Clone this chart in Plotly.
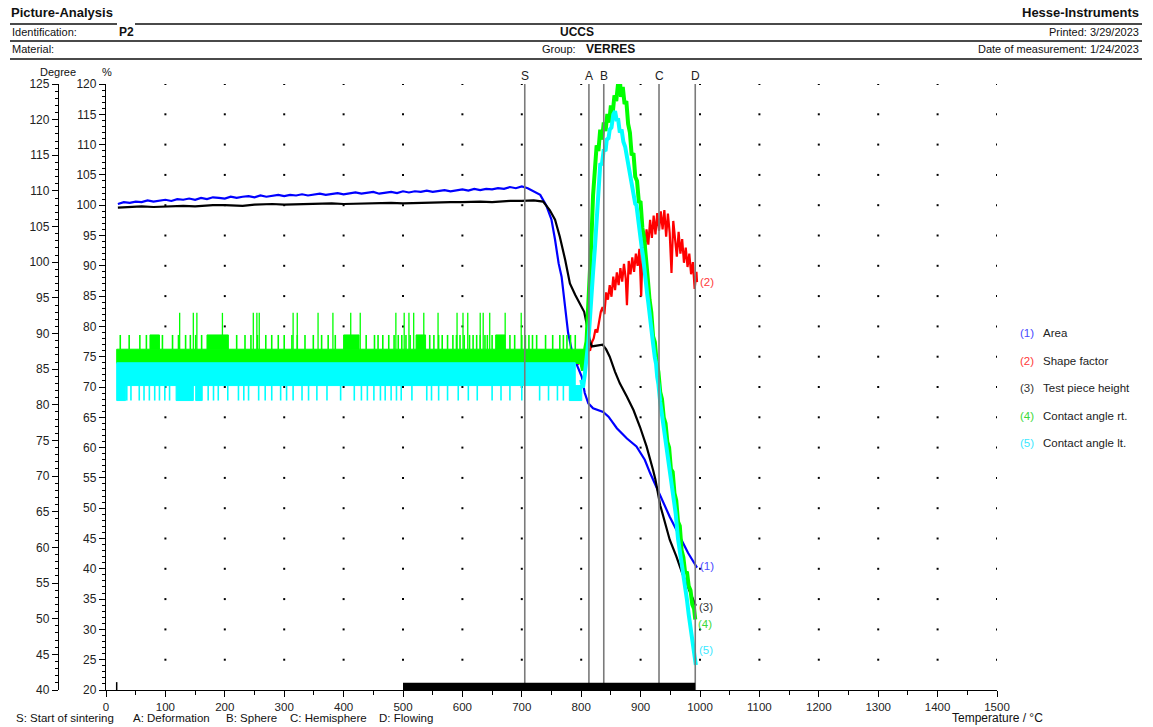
import plotly.graph_objects as go

# ---------------- data ----------------
# events (temperature, degC)
event_labels = ["S", "A", "B", "C", "D"]
event_temps = [705, 813, 838, 931, 992]
event_legend = ["S: Start of sintering", "A: Deformation", "B: Sphere", "C: Hemisphere", "D: Flowing"]
bar_start = 500
data_start = 18

# (1) Area, %
area_T = [20, 30, 40, 50, 60, 70, 80, 90, 100, 110, 120, 130, 140, 150, 160, 170, 180, 190, 200, 210, 220,
          230, 240, 250, 260, 270, 280, 290, 300, 310, 320, 330, 340, 350, 360, 370, 380, 390, 400, 410, 420,
          430, 440, 450, 460, 470, 480, 490, 500, 510, 520, 530, 540, 550, 560, 570, 580, 590, 600, 610, 620,
          630, 640, 650, 660, 670, 680, 690, 700, 710, 720, 731, 741, 750, 756, 762, 767, 770, 774, 778,
          784, 792, 801, 806, 812, 820, 837, 846, 860, 877, 893, 907, 916, 921, 933, 949, 960, 969, 980,
          990, 995]
area_v = [100.2, 100.5, 100.4, 100.6, 100.5, 100.8, 100.6, 100.7, 100.9, 100.7, 101.0, 100.9, 101.1, 100.9,
          101.2, 101.0, 101.3, 101.2, 101.1, 101.4, 101.2, 101.4, 101.5, 101.3, 101.6, 101.4, 101.5, 101.7,
          101.5, 101.7, 101.6, 101.8, 101.6, 101.7, 101.9, 101.7, 101.8, 102.0, 101.8, 101.9, 102.1, 101.9,
          102.0, 102.2, 101.9, 102.1, 102.2, 102.0, 102.3, 102.1, 102.3, 102.2, 102.4, 102.2, 102.4, 102.5,
          102.3, 102.5, 102.6, 102.4, 102.7, 102.5, 102.7, 102.6, 102.8, 102.7, 103.0, 102.8, 103.1, 102.8,
          102.3, 101.7, 100.0, 97.6, 94.3, 90.4, 88.2, 85.5, 82.2, 78.9, 76.1, 73.8, 71.7, 69.0, 67.3, 66.5,
          65.9, 65.1, 63.2, 61.5, 60.2, 58.0, 55.8, 54.7, 52.3, 48.6, 46.5, 44.8, 42.6, 41.0, 40.2]

# (2) Shape factor, %
shape_T = [792, 800, 803, 806, 809, 812, 815, 818, 821, 824, 827, 830, 833, 836, 839, 842, 845, 848, 851,
           854, 857, 860, 863, 866, 869, 872, 875, 877, 880, 883, 886, 889, 892, 895, 898, 901, 904, 907,
           910, 913, 916, 919, 922, 925, 928, 931, 934, 937, 940, 943, 946, 949, 952, 955, 958, 961, 964,
           967, 970, 973, 976, 979, 982, 985, 988, 991, 994, 995]
shape_v = [73.6, 74.2, 74.8, 75.5, 75.2, 76.3, 76.0, 77.4, 78.0, 79.5, 79.0, 81.0, 82.4, 83.2, 82.0, 85.6,
           84.4, 86.8, 84.9, 88.2, 86.0, 88.9, 86.8, 89.6, 87.4, 90.3, 87.9, 83.5, 90.8, 88.6, 91.4, 89.0,
           92.0, 90.0, 92.8, 85.0, 94.5, 91.8, 96.0, 93.5, 97.6, 94.6, 98.3, 95.2, 98.7, 95.8, 99.0, 96.0,
           99.2, 94.8, 98.6, 95.4, 88.8, 97.4, 94.0, 91.5, 95.6, 92.0, 94.4, 90.5, 93.0, 89.8, 92.0, 88.6,
           90.6, 86.2, 89.0, 87.3]
shape_early_T = [136, 154, 237, 259, 286, 343, 352, 358, 382, 405]
shape_early_v = [72.9, 72.9, 72.9, 72.9, 72.9, 72.9, 72.9, 72.9, 72.9, 72.9]

# (3) Test piece height, %
height_T = [20, 40, 60, 80, 100, 130, 150, 180, 200, 230, 250, 280, 300, 330, 350, 380, 400, 430, 450, 480,
            500, 530, 550, 580, 600, 630, 650, 680, 700, 720, 736, 747, 756,
            764, 773, 781, 790, 798, 805, 810, 815, 818, 826, 836, 842, 848, 857, 865, 877, 888, 899, 910,
            921, 925, 933, 940, 949, 960, 970, 980, 988, 993]
height_v = [99.6, 99.7, 99.8, 99.7, 99.8, 99.9, 99.8, 100.0, 100.0, 99.9, 100.1, 100.2, 100.1, 100.2, 100.2,
            100.3, 100.2, 100.3, 100.3, 100.4, 100.3, 100.4, 100.4, 100.5, 100.5, 100.6, 100.5, 100.7,
            100.7, 100.8, 100.6, 99.2, 97.6, 94.8, 91.0, 87.1, 85.2, 83.8, 82.4, 80.0, 77.5, 76.7, 76.8,
            77.0, 76.2, 75.0, 72.5, 70.6, 68.4, 66.2, 63.4, 60.2, 56.3, 54.7, 50.5, 48.0, 44.8, 42.1, 39.3,
            36.9, 34.9, 33.9]

# (4) Contact angle rt., degree
rt_band = [18, 803, 85.8, 87.8]          # T from, T to, low, high (dense band before sintering)
rt_mid_level = 89.8
rt_mid_blocks = [(74, 90), (170, 206), (400, 426), (522, 538), (656, 672)]
rt_mid_T = [24, 39, 57, 68, 95, 112, 122, 134, 142, 151, 161, 220, 234, 244, 255, 269, 279, 290, 300, 313,
            322, 335, 349, 363, 374, 386, 438, 452, 458, 466, 476, 485, 492, 498, 505, 512, 545, 552, 560,
            566, 575, 584, 590, 596, 603, 612, 618, 624, 630, 638, 642, 650, 680, 688, 700, 706, 712, 718,
            725, 740, 752, 764, 770, 776, 782, 790]
rt_spike_level = 92.9
rt_spike_T = [124, 147, 153, 196, 248, 254, 258, 315, 322, 357, 382, 412, 428, 488, 502, 510, 518, 535,
              559, 591, 601, 609, 630, 635, 646, 672, 699]
rt_T = [800, 803, 806, 809, 811, 813, 815, 817, 820, 823, 826, 829, 832, 835, 838, 841, 844, 847, 850, 853,
        856, 859, 862, 865, 867, 870, 873, 876, 879, 882, 885, 888, 891, 894, 897, 900, 903, 906, 909, 912,
        915, 918, 921, 924, 927, 930, 933, 936, 939, 942, 945, 948, 951, 954, 957, 960, 963, 966, 969, 972,
        975, 978, 981, 984, 987, 990, 992]
rt_v = [86.0, 84.8, 87.5, 88.9, 92.5, 95.2, 99.5, 102.8, 109.4, 112.7, 116.4, 115.6, 118.6, 117.2, 119.6,
        118.4, 120.8, 119.6, 122.0, 120.9, 123.4, 122.6, 125.0, 125.8, 123.2, 124.6, 122.2, 122.6, 119.4,
        118.2, 115.0, 115.3, 112.0, 111.4, 108.5, 108.4, 104.8, 103.4, 99.6, 97.8, 94.8, 93.0, 89.6, 88.8,
        86.0, 84.6, 81.8, 80.8, 78.2, 77.4, 74.8, 74.0, 71.0, 70.6, 67.6, 66.6, 63.6, 63.0, 59.6, 58.6, 56.4,
        56.6, 54.6, 54.0, 52.0, 51.4, 49.9]

# (5) Contact angle lt., degree
lt_band = [18, 790, 82.7, 85.9]
lt_low_blocks = [(18, 33), (118, 147), (151, 162), (780, 801)]
lt_spike_level = 80.6
lt_spike_T = [35, 42, 56, 64, 73, 82, 90, 99, 107, 172, 181, 189, 205, 223, 232, 240, 257, 268, 279, 294,
              304, 315, 330, 341, 355, 372, 395, 418, 430, 440, 451, 462, 470, 480, 489, 497, 515, 540, 548,
              560, 575, 593, 610, 625, 650, 665, 680, 700, 730, 745, 760, 770]
lt_T = [800, 803, 806, 809, 812, 815, 818, 820, 823, 826, 828, 830, 832, 835, 838, 841, 843, 846, 848, 851,
        854, 857, 860, 862, 865, 868, 871, 874, 877, 880, 882, 885, 888, 891, 893, 896, 899, 902, 904, 907,
        909, 911, 913, 915, 917, 919, 921, 924, 926, 928, 930, 933, 935, 938, 940, 942, 944, 947, 950, 953,
        956, 959, 963, 966, 969, 972, 975, 978, 981, 983, 986, 989, 991, 993]
lt_v = [83.5, 82.4, 84.2, 86.4, 88.9, 92.4, 95.2, 98.6, 101.9, 105.4, 108.7, 110.8, 113.7, 113.8, 115.8,
        115.6, 117.2, 117.4, 118.6, 118.9, 120.7, 121.2, 119.8, 120.2, 118.2, 118.6, 116.9, 116.2, 114.8,
        113.2, 112.7, 110.6, 109.8, 108.2, 108.0, 105.6, 104.5, 102.0, 100.9, 98.0, 96.7, 95.6, 94.3, 92.6,
        91.4, 89.6, 88.6, 86.6, 85.8, 83.9, 82.9, 80.4, 79.2, 77.6, 76.8, 75.2, 74.4, 72.4, 71.2, 69.2, 67.6,
        64.8, 61.2, 59.6, 57.2, 56.0, 54.4, 52.7, 50.6, 49.5, 47.4, 45.7, 44.4, 43.5]

legend_nums = ["(1)", "(2)", "(3)", "(4)", "(5)"]
legend_names = ["Area", "Shape factor", "Test piece height", "Contact angle rt.", "Contact angle lt."]
end_label_shift = [2, 0, -1, -5, 15]   # px offsets of the "(n)" labels at curve ends

x_ticks = list(range(0, 1501, 100))
pct_ticks = list(range(20, 121, 5))
deg_ticks = list(range(40, 126, 5))
grid_T = list(range(100, 1501, 100))
grid_pct = list(range(25, 121, 5))

# ---------------- styling ----------------
FONT = "Liberation Sans, Arial, sans-serif"
C_BLUE, C_RED, C_BLACK, C_GREEN, C_CYAN = "#0000ff", "#ff0000", "#000000", "#00ff00", "#00ffff"
L_BLUE, L_RED, L_BLACK, L_GREEN, L_CYAN = "#4a4aff", "#ff3a3a", "#333333", "#3ad83a", "#3ae8ff"
W, H = 1153, 727
ML, MR, MT, MB = 58, 156, 84, 37
PW, PH = W - ML - MR, H - MT - MB


def pxx(px):
    return (px - ML) / PW


def pxy(py):
    return (H - MB - py) / PH


def vsegs(ts, lo, hi):
    xs, ys = [], []
    for t in ts:
        xs += [t, t, None]
        ys += [lo, hi, None]
    return xs, ys


def rects(blocks, lo, hi):
    xs, ys = [], []
    for a, b in blocks:
        xs += [a, b, b, a, a, None]
        ys += [lo, lo, hi, hi, lo, None]
    return xs, ys


fig = go.Figure()

# grid of dots
gx, gy = [], []
for t in grid_T:
    for p in grid_pct:
        gx.append(t)
        gy.append(p)
fig.add_trace(go.Scatter(x=gx, y=gy, mode="markers", marker=dict(size=2, color="#000", symbol="square"),
                         hoverinfo="skip"))

# (4) contact angle rt. band
bx, by = rects([(rt_band[0], rt_band[1])], rt_band[2], rt_band[3])
fig.add_trace(go.Scatter(x=bx, y=by, yaxis="y2", mode="lines", fill="toself", fillcolor=C_GREEN,
                         line=dict(color=C_GREEN, width=1)))
bx, by = rects(rt_mid_blocks, rt_band[3], rt_mid_level)
fig.add_trace(go.Scatter(x=bx, y=by, yaxis="y2", mode="lines", fill="toself", fillcolor=C_GREEN,
                         line=dict(color=C_GREEN, width=1)))
sx, sy = vsegs(rt_mid_T, rt_band[3], rt_mid_level)
fig.add_trace(go.Scatter(x=sx, y=sy, yaxis="y2", mode="lines", line=dict(color=C_GREEN, width=1.6)))
sx, sy = vsegs(rt_spike_T, rt_band[3], rt_spike_level)
fig.add_trace(go.Scatter(x=sx, y=sy, yaxis="y2", mode="lines", line=dict(color=C_GREEN, width=1.3)))

# (5) contact angle lt. band
bx, by = rects([(lt_band[0], lt_band[1])], lt_band[2], lt_band[3])
fig.add_trace(go.Scatter(x=bx, y=by, yaxis="y2", mode="lines", fill="toself", fillcolor=C_CYAN,
                         line=dict(color=C_CYAN, width=1)))
bx, by = rects(lt_low_blocks, lt_spike_level, lt_band[2])
fig.add_trace(go.Scatter(x=bx, y=by, yaxis="y2", mode="lines", fill="toself", fillcolor=C_CYAN,
                         line=dict(color=C_CYAN, width=1)))
sx, sy = vsegs(lt_spike_T, lt_band[2], lt_spike_level)
fig.add_trace(go.Scatter(x=sx, y=sy, yaxis="y2", mode="lines", line=dict(color=C_CYAN, width=1.6)))

# transitions of contact angles
fig.add_trace(go.Scatter(x=rt_T, y=rt_v, yaxis="y2", mode="lines", line=dict(color=C_GREEN, width=4)))
fig.add_trace(go.Scatter(x=lt_T, y=lt_v, yaxis="y2", mode="lines", line=dict(color=C_CYAN, width=4)))

# (2) shape factor
fig.add_trace(go.Scatter(x=shape_early_T, y=shape_early_v, mode="markers",
                         marker=dict(color=C_RED, size=3, symbol="square")))
fig.add_trace(go.Scatter(x=shape_T, y=shape_v, mode="lines", line=dict(color=C_RED, width=2.2)))
# (1) area
fig.add_trace(go.Scatter(x=area_T, y=area_v, mode="lines", line=dict(color=C_BLUE, width=2.2)))
# (3) height
fig.add_trace(go.Scatter(x=height_T, y=height_v, mode="lines", line=dict(color=C_BLACK, width=2.2)))

shapes = []
annots = []

# event lines and labels
for lab, t in zip(event_labels, event_temps):
    shapes.append(dict(type="line", xref="x", yref="y", x0=t, x1=t, y0=20, y1=120,
                       line=dict(color="#7a7a7a", width=1.6), layer="above"))
    annots.append(dict(x=t, y=120, xref="x", yref="y", text=lab, showarrow=False, yanchor="bottom",
                       yshift=-1, font=dict(family=FONT, size=12, color="#222")))

# black bar
shapes.append(dict(type="rect", xref="x", yref="y", x0=bar_start, x1=event_temps[-1], y0=20, y1=21.2,
                   fillcolor="#000", line=dict(width=0), layer="above"))
shapes.append(dict(type="line", xref="x", yref="y", x0=data_start, x1=data_start, y0=20, y1=21.3,
                   line=dict(color="#000", width=1.5)))

# end labels
ends = [(area_T[-1], area_v[-1], "y", L_BLUE), (shape_T[-1], shape_v[-1], "y", L_RED),
        (height_T[-1], height_v[-1], "y", L_BLACK), (rt_T[-1], rt_v[-1], "y2", L_GREEN),
        (lt_T[-1], lt_v[-1], "y2", L_CYAN)]
for (t, v, ya, col), num, sh in zip(ends, legend_nums, end_label_shift):
    annots.append(dict(x=t, y=v, xref="x", yref=ya, text=num, showarrow=False, xanchor="left", xshift=1,
                       yshift=sh, font=dict(family=FONT, size=11.5, color=col)))

# legend
leg_cols = [L_BLUE, L_RED, L_BLACK, L_GREEN, L_CYAN]
for i, (num, name, col) in enumerate(zip(legend_nums, legend_names, leg_cols)):
    yy = 333 + i * 27.5
    annots.append(dict(x=pxx(1018), y=pxy(yy), xref="paper", yref="paper", text=num, showarrow=False,
                       xanchor="left", font=dict(family=FONT, size=11.5, color=col)))
    annots.append(dict(x=pxx(1041), y=pxy(yy), xref="paper", yref="paper", text=name, showarrow=False,
                       xanchor="left", font=dict(family=FONT, size=11.5, color="#222")))


# header
def txt(px, py, s, size=11, bold=False, anchor="left", color="#111"):
    if bold:
        s = "<b>" + s + "</b>"
    annots.append(dict(x=pxx(px), y=pxy(py), xref="paper", yref="paper", text=s, showarrow=False,
                       xanchor=anchor, yanchor="middle", font=dict(family=FONT, size=size, color=color)))


txt(9, 13, "Picture-Analysis", 13, True)
txt(1141, 13, "Hesse-Instruments", 13, True, "right")
txt(10, 32, "Identification:", 11)
txt(117, 32, "P2", 12, True)
txt(577, 32, "UCCS", 12, True, "center")
txt(1141, 32, "Printed: 3/29/2023", 11, False, "right")
txt(10, 49, "Material:", 11)
txt(540, 49, "Group:", 11)
txt(584, 49, "VERRES", 12, True)
txt(1141, 49, "Date of measurement: 1/24/2023", 11, False, "right")
txt(38, 72, "Degree", 11)
txt(100, 72, "%", 11)
txt(950, 718, "Temperature / \u00b0C", 12)
for lab, xpos in zip(event_legend, [14, 131, 224, 288, 377]):
    txt(xpos, 718, lab, 11.5)

for (x0, x1, yy) in [(10, 117, 24), (135, 1142, 24), (10, 1142, 41), (10, 1142, 59)]:
    shapes.append(dict(type="line", xref="paper", yref="paper", x0=pxx(x0), x1=pxx(x1), y0=pxy(yy),
                       y1=pxy(yy), line=dict(color="#4a4a4a", width=2)))

axis_font = dict(family=FONT, size=12, color="#222")
fig.update_layout(
    width=W, height=H, margin=dict(l=ML, r=MR, t=MT, b=MB),
    paper_bgcolor="white", plot_bgcolor="white", showlegend=False,
    xaxis=dict(domain=[pxx(106), 1], range=[0, 1500], tickvals=x_ticks, showgrid=False, zeroline=False,
               showline=True, linecolor="#000", linewidth=1.3, ticks="outside", ticklen=6, tickwidth=1.3,
               tickcolor="#000", tickfont=dict(family=FONT, size=11.5, color="#222"),
               minor=dict(dtick=50, ticks="outside", ticklen=4, tickcolor="#000", tickwidth=1.3)),
    yaxis=dict(range=[20, 120], tickvals=pct_ticks, showgrid=False, zeroline=False, showline=True,
               linecolor="#000", linewidth=1.3, ticks="outside", ticklen=6, tickwidth=1.2, tickcolor="#000",
               tickfont=axis_font,
               minor=dict(dtick=1, ticks="outside", ticklen=3, tickcolor="#000", tickwidth=1)),
    yaxis2=dict(range=[40, 125], domain=[0, 600 / PH], overlaying="y", anchor="free", position=0,
                tickvals=deg_ticks, showgrid=False, zeroline=False, showline=True, linecolor="#000",
                linewidth=1.3, ticks="outside", ticklen=6, tickwidth=1.2, tickcolor="#000", tickfont=axis_font,
                minor=dict(dtick=1, ticks="outside", ticklen=3, tickcolor="#000", tickwidth=1)),
    shapes=shapes, annotations=annots,
)

fig.write_html("out.html", config={"displayModeBar": False},
               post_script="document.body.style.margin='0';")
